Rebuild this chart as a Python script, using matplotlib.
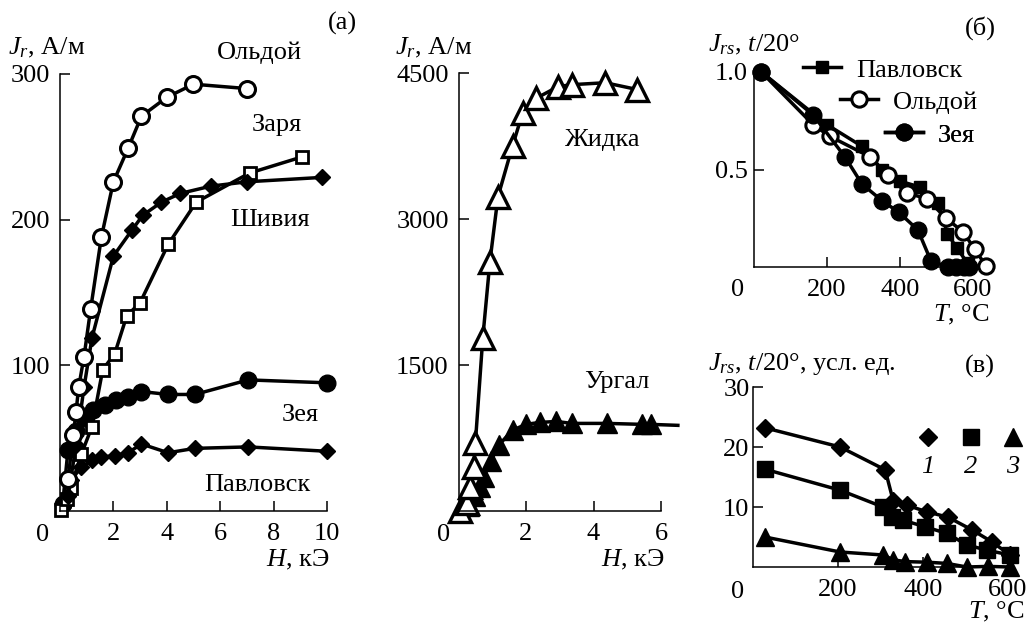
import matplotlib
matplotlib.use('Agg')
import matplotlib.pyplot as plt

plt.rcParams['font.family'] = 'serif'
plt.rcParams['font.serif'] = ['Liberation Serif', 'DejaVu Serif']
plt.rcParams['mathtext.fontset'] = 'custom'
plt.rcParams['mathtext.rm'] = 'Liberation Serif'
plt.rcParams['mathtext.it'] = 'Liberation Serif:italic'
plt.rcParams['font.size'] = 19

# ---------------- data: panel (a) ----------------
oldoy_H = [0.3, 0.5, 0.6, 0.7, 0.9, 1.15, 1.55, 2.0, 2.55, 3.05, 4.0, 5.0, 7.0]
oldoy_J = [22, 52, 68, 85, 106, 139, 188, 226, 249, 271, 284, 293, 290]
shiviya_H = [0.3, 0.6, 0.9, 1.2, 2.0, 2.7, 3.1, 3.8, 4.5, 5.65, 7.0, 9.8]
shiviya_J = [10, 45, 85, 119, 175, 193, 203, 212, 218, 223, 226, 229]
zarya_H = [0.05, 0.25, 0.4, 0.8, 1.2, 1.6, 2.05, 2.5, 3.0, 4.05, 5.1, 7.1, 9.05]
zarya_J = [1, 8, 16, 39, 58, 97, 108, 134, 143, 183, 212, 232, 243]
zeya_H = [0.1, 0.3, 0.6, 0.9, 1.25, 1.7, 2.1, 2.55, 3.05, 4.05, 5.05, 7.05, 10.0]
zeya_J = [5, 42, 55, 64, 69, 73, 76, 78, 82, 80, 80, 90, 88]
pavl_H = [0.1, 0.4, 0.8, 1.2, 1.55, 2.05, 2.55, 3.05, 4.05, 5.05, 7.05, 10.0]
pavl_J = [3, 21, 30, 35, 37, 38, 40, 46, 40, 43, 44, 41]

# ---------------- data: middle panel ----------------
zhidka_H = [0.05, 0.25, 0.35, 0.45, 0.5, 0.72, 0.93, 1.17, 1.6, 1.9, 2.3, 2.95, 3.35, 4.35, 5.3]
zhidka_J = [0, 80, 250, 450, 700, 1780, 2560, 3230, 3750, 4090, 4240, 4360, 4380, 4400, 4330]
urgal_H = [0.3, 0.5, 0.65, 0.75, 0.95, 1.2, 1.6, 2.0, 2.4, 2.9, 3.35, 4.4, 5.45, 5.7, 6.5]
urgal_J = [50, 150, 250, 350, 510, 680, 830, 890, 910, 920, 900, 900, 890, 890, 880]

# ---------------- data: panel (б) ----------------
b_pavl_T = [20, 200, 295, 350, 400, 455, 505, 530, 555, 585]
b_pavl_J = [1.0, 0.73, 0.62, 0.50, 0.44, 0.41, 0.33, 0.17, 0.10, 0.02]
b_old_T = [20, 162, 208, 318, 367, 418, 474, 526, 573, 605, 636]
b_old_J = [1.0, 0.73, 0.67, 0.565, 0.47, 0.38, 0.35, 0.25, 0.18, 0.09, 0.005]
b_zeya_T = [20, 162, 249, 296, 351, 397, 449, 485, 532, 553, 575, 590]
b_zeya_J = [1.0, 0.78, 0.565, 0.425, 0.34, 0.28, 0.19, 0.03, 0.0, 0.0, 0.0, 0.0]

# ---------------- data: panel (в) ----------------
v1_T = [28, 205, 311, 330, 362, 409, 459, 515, 562, 605]
v1_J = [23.2, 20.0, 16.2, 11.0, 10.3, 9.2, 8.3, 6.2, 4.2, 2.0]
v2_T = [28, 205, 306, 327, 353, 405, 456, 503, 550, 605]
v2_J = [16.3, 12.8, 10.0, 8.3, 7.8, 6.7, 5.6, 3.7, 2.8, 2.0]
v3_T = [28, 205, 306, 330, 358, 409, 456, 503, 553, 605]
v3_J = [5.0, 2.5, 2.0, 1.2, 0.9, 0.8, 0.6, 0.0, 0.1, 0.0]

W, HH = 1029, 626
fig = plt.figure(figsize=(W / 100, HH / 100), dpi=100)
FS = 19


def box(x0, x1, y0, y1):
    return [x0 / W, 1 - y0 / HH, (x1 - x0) / W, (y0 - y1) / HH]


def style(ax, xlim, ylim, xticks, yticks, ypad, xpad=9, ylabels=None):
    ax.set_xlim(xlim)
    ax.set_ylim(ylim)
    for s in ['top', 'right']:
        ax.spines[s].set_visible(False)
    for s in ['left', 'bottom']:
        ax.spines[s].set_linewidth(1.1)
    ax.set_xticks(xticks)
    ax.set_yticks(yticks)
    if ylabels is not None:
        ax.set_yticklabels(ylabels)
    ax.tick_params(direction='in', length=7, width=1.1, labelsize=FS)
    ax.tick_params(axis='y', pad=ypad)
    ax.tick_params(axis='x', pad=xpad)
    ax.patch.set_visible(False)


def ftext(x, y, s, ha='center', va='center', **kw):
    fig.text(x / W, 1 - y / HH, s, ha=ha, va=va, fontsize=kw.pop('fontsize', FS), **kw)


LW = 2.5
kw_line = dict(color='black', lw=LW, clip_on=False)

# ================= panel (a) =================
ax = fig.add_axes(box(60, 327, 511, 74))
style(ax, (0, 10), (0, 300), [2, 4, 6, 8, 10], [100, 200, 300], ypad=7)
ax.plot(pavl_H, pavl_J, marker='D', ms=8, mfc='black', mec='black', **kw_line)
ax.plot(zeya_H, zeya_J, marker='o', ms=12, mfc='black', mec='black', **kw_line)
ax.plot(zarya_H, zarya_J, marker='s', ms=8.5, mfc='white', mec='black', mew=2, **kw_line)
ax.plot(shiviya_H, shiviya_J, marker='D', ms=8, mfc='black', mec='black', **kw_line)
ax.plot(oldoy_H, oldoy_J, marker='o', ms=11.5, mfc='white', mec='black', mew=2.2, **kw_line)

ftext(342, 23, '(а)')
ftext(8, 48, '$J_r$, А/м', ha='left')
ftext(259, 53, 'Ольдой')
ftext(277, 125, 'Заря')
ftext(270, 220, 'Шивия')
ftext(300, 415, 'Зея')
ftext(257, 485, 'Павловск')
ftext(43, 535, '0')
ftext(330, 560, '$H$, кЭ', ha='right')

# ================= middle panel =================
ax = fig.add_axes(box(458.5, 661, 511, 73))
style(ax, (0, 6), (0, 4500), [2, 4, 6], [1500, 3000, 4500], ypad=7)
ax.plot(urgal_H, urgal_J, marker='^', ms=14, mfc='black', mec='black',
        markevery=slice(0, len(urgal_H) - 1), **kw_line)
ax.plot(zhidka_H, zhidka_J, marker='^', ms=16, mfc='white', mec='black', mew=2.4, **kw_line)

ftext(395, 48, '$J_r$, А/м', ha='left')
ftext(603, 140, 'Жидка')
ftext(617, 382, 'Ургал')
ftext(444, 535, '0')
ftext(665, 560, '$H$, кЭ', ha='right')

# ================= panel (б) =================
ax = fig.add_axes(box(754, 973, 267, 72))
style(ax, (0, 600), (0, 1.0), [200, 400, 600], [0.5, 1.0], ypad=4.3,
      ylabels=['0.5', '1.0'])
l1, = ax.plot(b_pavl_T, b_pavl_J, marker='s', ms=9, mfc='black', mec='black', **kw_line)
l2, = ax.plot(b_old_T, b_old_J, marker='o', ms=11, mfc='white', mec='black', mew=2.2, **kw_line)
l3, = ax.plot(b_zeya_T, b_zeya_J, marker='o', ms=12, mfc='black', mec='black', **kw_line)

leg_pos = [(803, 70, l1, 'Павловск'), (840, 102, l2, 'Ольдой'), (885, 135, l3, 'Зея')]
for (px, py, h, lab) in leg_pos:
    lg = ax.legend([h], [lab], loc='center left', bbox_to_anchor=(px / W, 1 - py / HH),
                   bbox_transform=fig.transFigure, frameon=False, fontsize=FS,
                   handlelength=1.45, handletextpad=0.55, borderpad=0, borderaxespad=0)
    ax.add_artist(lg)

ftext(980, 28, '(б)')
ftext(708, 45, '$J_{rs}$, $t$/20°', ha='left')
ftext(738, 290, '0')
ftext(990, 315, '$T$, °C', ha='right')

# ================= panel (в) =================
ax = fig.add_axes(box(753, 1008, 567, 387))
style(ax, (0, 600), (0, 30), [200, 400, 600], [10, 20, 30], ypad=2.5)
ax.plot(v1_T, v1_J, marker='D', ms=9.5, mfc='black', mec='black', **kw_line)
ax.plot(v2_T, v2_J, marker='s', ms=11, mfc='black', mec='black', **kw_line)
ax.plot(v3_T, v3_J, marker='^', ms=13, mfc='black', mec='black', **kw_line)

for (px, mk, ms, lab) in [(928, 'D', 9.5, '1'), (971, 's', 11, '2'), (1013, '^', 13, '3')]:
    ax.plot([px / W], [1 - 437 / HH], marker=mk, ms=ms, color='black', ls='none',
            transform=fig.transFigure, clip_on=False)
    ftext(px, 467, lab, style='italic')

ftext(708, 364, '$J_{rs}$, $t$/20°, усл. ед.', ha='left')
ftext(980, 366, '(в)')
ftext(738, 592, '0')
ftext(1025, 612, '$T$, °C', ha='right')

fig.savefig('out.png', dpi=100)
